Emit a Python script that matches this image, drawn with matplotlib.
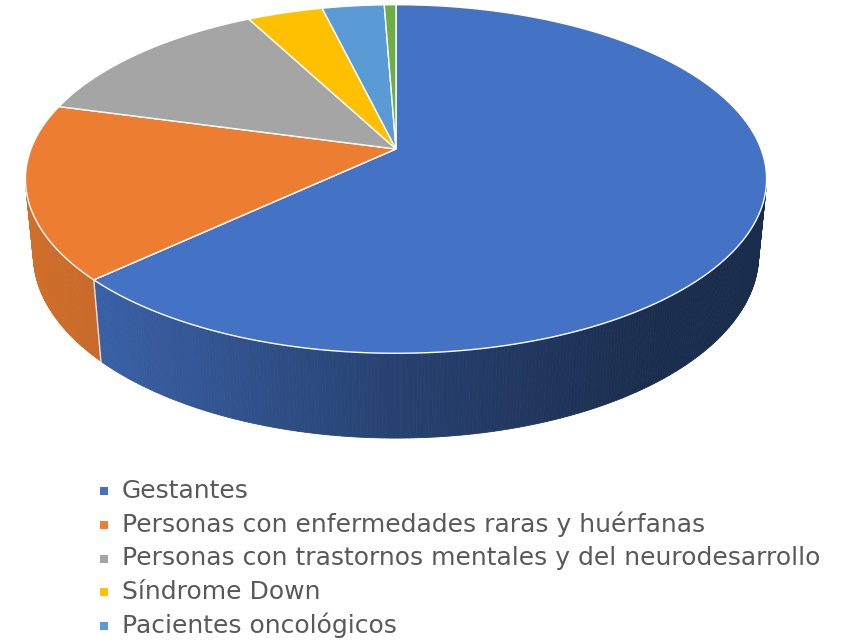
import numpy as np
import matplotlib
matplotlib.use("Agg")
from matplotlib import pyplot as plt
from matplotlib.patches import Polygon, Rectangle

# data (share of total, clockwise from 12 o'clock)
categories = [
    "Gestantes",
    "Personas con enfermedades raras y huérfanas",
    "Personas con trastornos mentales y del neurodesarrollo",
    "Síndrome Down",
    "Pacientes oncológicos",
    "Otros",
]
values = [63.1, 16.2, 13.1, 3.9, 3.2, 0.6]
colors = ["#4472C4", "#ED7D31", "#A5A5A5", "#FFC000", "#5B9BD5", "#70AD47"]

# view settings for the fake 3D look
phi = np.radians(27.6)
c, s = np.cos(phi), np.sin(phi)
D = 5.15
f = 1880.0
h = 0.236
CX, CY = 396, 149


def proj(X, Y, Z):
    d = D + Y * c - Z * s
    return CX + f * X / d, CY - f * (Y * s + Z * c) / d


def shade(px):
    return np.interp(px, [28, 100, 400, 650, 770], [0.88, 0.84, 0.57, 0.40, 0.38])


fig = plt.figure(figsize=(8.61, 6.42), dpi=100)
ax = fig.add_axes([0, 0, 1, 1])
ax.set_xlim(0, 861)
ax.set_ylim(642, 0)
ax.axis("off")

vals = np.array(values)
cum = np.concatenate([[0], np.cumsum(vals)]) / vals.sum()
starts = 90 - 360 * cum[:-1]
ends = 90 - 360 * cum[1:]

# side wall (only the part facing the viewer)
limit = -1 / (D * c)
for a0, a1, col in zip(starts, ends, colors):
    th = np.radians(np.linspace(a0, a1, max(int(abs(a1 - a0) * 2), 2)))
    rgb = np.array(matplotlib.colors.to_rgb(col))
    for t0, t1 in zip(th[:-1], th[1:]):
        if np.sin(t0) > limit and np.sin(t1) > limit:
            continue
        p = [proj(np.cos(t0), np.sin(t0), 0), proj(np.cos(t1), np.sin(t1), 0),
             proj(np.cos(t1), np.sin(t1), -h), proj(np.cos(t0), np.sin(t0), -h)]
        mx = (p[0][0] + p[1][0]) / 2
        fc = np.clip(rgb * shade(mx), 0, 1)
        ax.add_patch(Polygon(p, closed=True, facecolor=fc, edgecolor=fc, lw=0.6))

# white seam on the side where slices meet
for a in ends[:-1]:
    t = np.radians(a)
    if np.sin(t) < limit:
        x0, y0 = proj(np.cos(t), np.sin(t), 0)
        x1, y1 = proj(np.cos(t), np.sin(t), -h)
        ax.plot([x0, x1], [y0, y1], color="white", lw=1.0, alpha=0.8)

# top face
for a0, a1, col in zip(starts, ends, colors):
    th = np.radians(np.linspace(a0, a1, max(int(abs(a1 - a0) * 3), 3)))
    pts = [proj(0, 0, 0)] + [proj(np.cos(t), np.sin(t), 0) for t in th]
    ax.add_patch(Polygon(pts, closed=True, facecolor=col, edgecolor="white", lw=1.0))

# legend (last entry falls below the image edge, as in the original)
y0, step = 498, 33.75
for i, (lab, col) in enumerate(zip(categories, colors)):
    y = y0 + i * step
    if y > 642:
        break
    ax.add_patch(Rectangle((100, y - 11), 8, 8, facecolor=col, edgecolor="none"))
    ax.text(122, y, lab, fontsize=18, color="#595959", va="baseline", ha="left",
            family=["DejaVu Sans"])

fig.savefig("out.png", dpi=100)
